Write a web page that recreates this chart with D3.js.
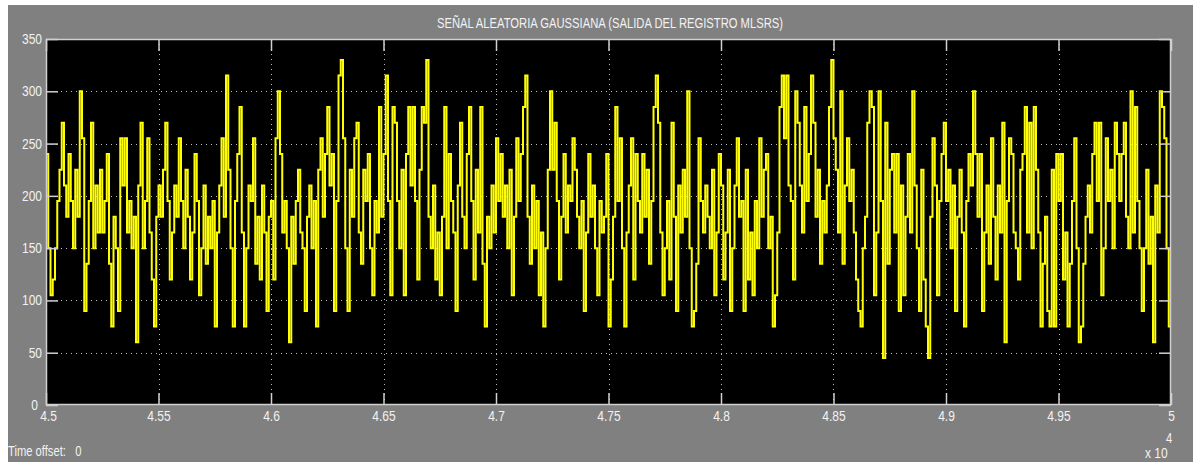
<!DOCTYPE html>
<html>
<head>
<meta charset="utf-8">
<script src="https://cdn.jsdelivr.net/npm/d3@7"></script>
<style>
  html, body { margin: 0; padding: 0; background: #ffffff; }
  svg { display: block; }
  text { font-family: "Liberation Sans", Arial, sans-serif; fill: #f2f2f2; white-space: pre; }
</style>
</head>
<body>
<div id="chart"></div>
<script>
/* chart texts and ticks */
const title = "SEÑAL ALEATORIA GAUSSIANA (SALIDA DEL REGISTRO MLSRS)";
const yTicks = [0, 50, 100, 150, 200, 250, 300, 350];
const xTicks = [45000, 45500, 46000, 46500, 47000, 47500, 48000, 48500, 49000, 49500, 50000];
const xTickLabels = ["4.5", "4.55", "4.6", "4.65", "4.7", "4.75", "4.8", "4.85", "4.9", "4.95", "5"];
const xDomain = [45000, 50000];
const yDomain = [0, 350];

/* sample time of the register output */
const startTime = 45000;
const sampleTime = 10;

/* signal values, one per sample */
const signal = [
  240,150,105,120,150,195,225,270,210,180,240,195,150,225,180,300,255,90,135,195,270,150,210,165,225,
  165,195,240,135,75,180,150,90,255,210,255,165,195,150,180,60,210,270,150,195,255,165,120,75,180,
  210,180,225,270,195,120,165,210,180,255,195,150,225,180,120,165,240,195,105,150,210,135,180,150,195,
  75,165,210,255,180,315,225,150,75,195,240,285,165,75,150,210,195,255,135,180,120,210,165,90,180,
  195,120,255,300,240,165,195,150,60,180,135,195,225,165,150,90,180,210,150,195,75,225,255,180,240,
  285,210,240,90,195,315,330,255,150,90,225,180,255,270,165,135,225,195,240,150,105,195,165,285,180,
  240,315,195,105,285,270,195,150,225,105,240,285,210,285,195,120,225,285,270,330,180,150,210,120,165,
  105,180,285,150,240,195,165,90,210,270,180,150,240,285,195,120,225,165,285,135,75,180,150,210,165,
  255,195,240,180,210,150,225,105,180,255,195,240,285,315,180,135,210,150,195,105,165,75,150,225,300,
  225,270,195,120,180,240,165,210,195,255,225,180,150,195,90,165,240,180,210,150,105,195,165,180,240,
  75,120,180,285,195,255,150,75,165,210,255,120,240,195,165,240,180,225,135,195,285,315,270,165,105,
  150,195,120,270,180,90,210,165,225,180,300,150,75,90,135,255,195,165,210,180,150,225,105,165,240,
  210,120,165,225,90,150,210,255,180,195,90,225,120,165,105,195,150,255,180,225,240,150,180,75,105,
  165,285,315,255,315,210,195,120,300,270,210,165,285,195,240,315,270,180,225,135,195,165,210,285,330,
  255,225,165,300,135,210,255,195,225,165,120,90,75,150,180,270,300,285,105,165,300,195,45,270,135,
  225,240,165,240,90,210,105,180,240,165,300,210,150,90,225,120,75,45,180,255,210,105,195,240,270,
  195,225,150,210,90,180,225,165,75,195,240,210,300,240,180,240,90,165,210,135,255,180,120,210,165,
  270,60,195,255,240,165,150,120,225,240,285,165,270,150,285,225,165,75,135,180,90,75,225,75,240,
  195,240,120,165,75,135,195,255,150,60,75,135,180,210,165,240,270,195,270,105,150,255,195,225,150,
  270,240,195,240,270,180,150,300,165,285,195,150,90,150,225,135,180,60,210,165,300,285,255,150,75
];

const W = 1193, H = 462;
const plot = {left: 46, right: 1171, top: 39, bottom: 405};

const svg = d3.select("#chart").append("svg")
    .attr("width", W)
    .attr("height", H);

/* window background: white edge, gray figure */
svg.append("rect").attr("width", W).attr("height", H).attr("fill", "#ffffff");
svg.append("rect").attr("x", 8).attr("y", 5).attr("width", W - 8).attr("height", H - 5).attr("fill", "#808080");

const x = d3.scaleLinear().domain(xDomain).range([plot.left, plot.right]);
const y = d3.scaleLinear().domain(yDomain).range([plot.bottom, plot.top]);

/* black axes area */
svg.append("rect")
    .attr("x", plot.left).attr("y", plot.top)
    .attr("width", plot.right - plot.left).attr("height", plot.bottom - plot.top)
    .attr("fill", "#000000");

/* dotted grid */
const grid = svg.append("g").attr("stroke", "#bdbdbd").attr("stroke-width", 1).attr("stroke-dasharray", "1,4");
grid.selectAll(".gy").data(yTicks.slice(1, -1)).enter().append("line")
    .attr("x1", plot.left).attr("x2", plot.right)
    .attr("y1", d => Math.round(y(d)) + 0.5).attr("y2", d => Math.round(y(d)) + 0.5);
grid.selectAll(".gx").data(xTicks.slice(1, -1)).enter().append("line")
    .attr("y1", plot.top).attr("y2", plot.bottom)
    .attr("x1", d => Math.round(x(d)) + 0.5).attr("x2", d => Math.round(x(d)) + 0.5);

/* signal as zero-order hold */
const points = signal.map((v, i) => ({t: startTime + i * sampleTime, v: v}));
points.push({t: xDomain[1], v: signal[signal.length - 1]});

const line = d3.line()
    .curve(d3.curveStepAfter)
    .x(d => x(d.t))
    .y(d => y(d.v));

svg.append("path")
    .datum(points)
    .attr("d", line)
    .attr("fill", "none")
    .attr("stroke", "#ffff00")
    .attr("stroke-width", 2);

/* axes: ticks inside on all four sides */
const tickLen = 12;
const axisColor = "#d0d0d0";
const bottomAxis = d3.axisBottom(x).tickValues(xTicks).tickFormat((d, i) => xTickLabels[i]).tickSizeInner(-tickLen).tickSizeOuter(0).tickPadding(5);
const topAxis = d3.axisTop(x).tickValues(xTicks).tickFormat("").tickSizeInner(-tickLen).tickSizeOuter(0);
const leftAxis = d3.axisLeft(y).tickValues(yTicks).tickSizeInner(-tickLen).tickSizeOuter(0).tickPadding(4);
const rightAxis = d3.axisRight(y).tickValues(yTicks).tickFormat("").tickSizeInner(-tickLen).tickSizeOuter(0);

const gb = svg.append("g").attr("transform", "translate(0," + plot.bottom + ")").call(bottomAxis);
const gt = svg.append("g").attr("transform", "translate(0," + plot.top + ")").call(topAxis);
const gl = svg.append("g").attr("transform", "translate(" + plot.left + ",0)").call(leftAxis);
const gr = svg.append("g").attr("transform", "translate(" + plot.right + ",0)").call(rightAxis);

[gb, gt, gl, gr].forEach(g => {
    g.select(".domain").remove();
    g.selectAll("line").attr("stroke", axisColor).attr("stroke-width", 1.5);
    g.selectAll("text").attr("font-size", 15).attr("fill", "#f2f2f2");
});
gl.selectAll("text").attr("dy", "0.3em");
gb.selectAll("text").attr("dy", "0.72em");

/* the corner labels "0" and "4.5" sit close together: nudge them apart */
gl.selectAll("text").filter(d => d === yDomain[0]).attr("dx", -4);
gb.selectAll("text").filter(d => d === xDomain[0]).attr("dx", 2);

/* axes frame */
svg.append("rect")
    .attr("x", plot.left + 0.5).attr("y", plot.top + 0.5)
    .attr("width", plot.right - plot.left - 1).attr("height", plot.bottom - plot.top - 1)
    .attr("fill", "none").attr("stroke", axisColor).attr("stroke-width", 1.5);

/* title */
svg.append("text")
    .attr("x", 610).attr("y", 28)
    .attr("text-anchor", "middle")
    .attr("textLength", 346).attr("lengthAdjust", "spacingAndGlyphs")
    .attr("font-size", 15)
    .text(title);

/* bottom notes */
svg.append("text").attr("x", 8).attr("y", 456).attr("font-size", 14).text("Time offset:   0");
svg.append("text").attr("x", 1145).attr("y", 458).attr("font-size", 15).text("x 10");
svg.append("text").attr("x", 1166).attr("y", 443).attr("font-size", 14).text("4");

/* narrow the glyphs like the scope's condensed font */
svg.selectAll("text").each(function() {
    if (this.getAttribute("textLength")) return;
    const len = this.getComputedTextLength();
    d3.select(this).attr("textLength", len * 0.8).attr("lengthAdjust", "spacingAndGlyphs");
});
</script>
</body>
</html>
